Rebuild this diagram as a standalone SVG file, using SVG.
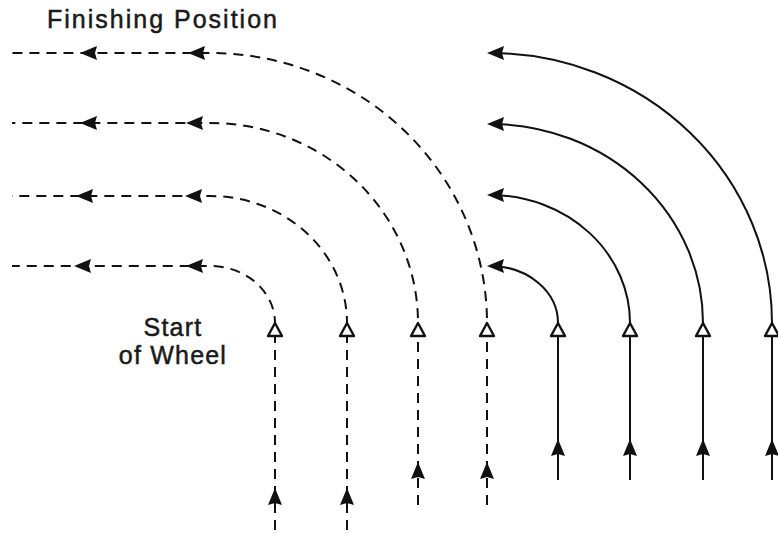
<svg xmlns="http://www.w3.org/2000/svg" xmlns:xlink="http://www.w3.org/1999/xlink" width="778" height="534" viewBox="0 0 778 534">
<style>
.lbl{font-family:"Liberation Sans",Arial,sans-serif;font-size:25px;fill:#1a1a1a;stroke:#1a1a1a;stroke-width:0.5;letter-spacing:1.2px}
.d{fill:none;stroke:#111;stroke-width:2;stroke-dasharray:10 7}
.s{fill:none;stroke:#111;stroke-width:2}
.tri{fill:#fff;stroke:#111;stroke-width:2.4;stroke-linejoin:round}
.ah{fill:#111}
</style>
<defs>
<polygon id="ahL" class="ah" points="0,0 17,-7 15,0 17,7"/>
<polygon id="ahU" class="ah" points="0,0 -7,17 0,15 7,17"/>
<polygon id="tri" class="tri" points="0,-7 7,6 -7,6"/>
</defs>
<rect width="778" height="534" fill="#fff"/>
<g id="labels">
<text class="lbl" x="47" y="28" style="letter-spacing:2px">Finishing Position</text>
<text class="lbl" x="173" y="336" text-anchor="middle">Start</text>
<text class="lbl" x="173" y="364" text-anchor="middle">of Wheel</text>
</g>
<g id="connectors">
<path class="d" d="M275,530 V323 A65,57 0 0 0 210,266 H12"/>
<path class="d" d="M347,530 V323 A137,127 0 0 0 210,196 H12"/>
<path class="d" d="M418,505 V323 A208,200 0 0 0 210,123 H12"/>
<path class="d" d="M487,505 V323 A277,270 0 0 0 210,53 H12"/>
<path class="s" d="M558,480 V323 A68,57 0 0 0 492,266"/>
<path class="s" d="M630,480 V323 A140,128 0 0 0 492,195"/>
<path class="s" d="M703,480 V323 A213,199 0 0 0 492,124"/>
<path class="s" d="M772,480 V323 A282,270 0 0 0 492,53"/>
<use xlink:href="#ahL" x="80" y="53"/><use xlink:href="#ahL" x="188" y="53"/>
<use xlink:href="#ahL" x="80" y="123"/><use xlink:href="#ahL" x="186" y="123"/>
<use xlink:href="#ahL" x="76" y="196"/><use xlink:href="#ahL" x="185" y="196"/>
<use xlink:href="#ahL" x="74" y="266"/><use xlink:href="#ahL" x="186" y="266"/>
<use xlink:href="#ahL" x="487" y="53"/>
<use xlink:href="#ahL" x="487" y="124"/>
<use xlink:href="#ahL" x="487" y="195"/>
<use xlink:href="#ahL" x="487" y="266"/>
<use xlink:href="#ahU" x="275" y="488"/>
<use xlink:href="#ahU" x="347" y="488"/>
<use xlink:href="#ahU" x="418" y="462"/>
<use xlink:href="#ahU" x="487" y="462"/>
<use xlink:href="#ahU" x="558" y="439"/>
<use xlink:href="#ahU" x="630" y="439"/>
<use xlink:href="#ahU" x="703" y="439"/>
<use xlink:href="#ahU" x="772" y="439"/>
</g>
<g id="start-markers">
<use id="m1" xlink:href="#tri" x="275" y="330"/>
<use id="m2" xlink:href="#tri" x="347" y="330"/>
<use id="m3" xlink:href="#tri" x="418" y="330"/>
<use id="m4" xlink:href="#tri" x="487" y="330"/>
<use id="m5" xlink:href="#tri" x="558" y="330"/>
<use id="m6" xlink:href="#tri" x="630" y="330"/>
<use id="m7" xlink:href="#tri" x="703" y="330"/>
<use id="m8" xlink:href="#tri" x="772" y="330"/>
</g>
</svg>
